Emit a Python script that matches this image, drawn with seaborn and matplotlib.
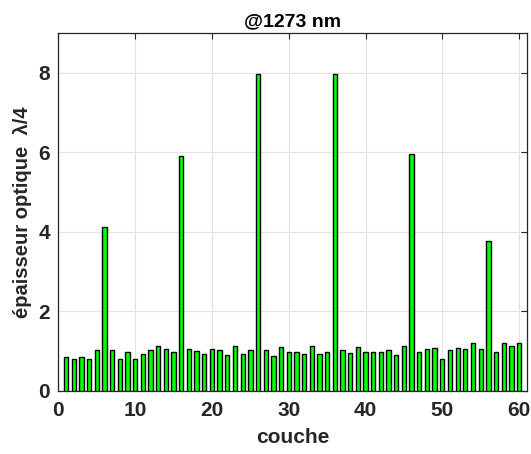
import numpy as np
import pandas as pd
import matplotlib
matplotlib.use("Agg")
import matplotlib.pyplot as plt
import seaborn as sns

# layer index and optical thickness (in lambda/4 units)
couche = list(range(1, 61))
epaisseur = [0.86, 0.79, 0.86, 0.79, 1.03, 4.12, 1.04, 0.79, 0.99, 0.79,
             0.93, 1.04, 1.12, 1.06, 0.99, 5.91, 1.05, 1.01, 0.94, 1.05,
             1.04, 0.91, 1.12, 0.92, 1.04, 7.96, 1.04, 0.89, 1.10, 0.98,
             0.99, 0.94, 1.12, 0.93, 0.99, 7.96, 1.04, 0.95, 1.11, 0.99,
             0.98, 0.99, 1.02, 0.91, 1.12, 5.97, 0.99, 1.05, 1.07, 0.79,
             1.02, 1.09, 1.05, 1.20, 1.06, 3.78, 0.99, 1.20, 1.13, 1.20]
xticks = [0, 10, 20, 30, 40, 50, 60]
yticks = [0, 2, 4, 6, 8]

df = pd.DataFrame({"couche": couche, "epaisseur": epaisseur})

sns.set_style("white")
plt.rcParams['font.family'] = ['Liberation Sans', 'DejaVu Sans']

fig = plt.figure(figsize=(5.31, 4.54), dpi=100)
ax = fig.add_axes([0.110, 0.139, 0.882, 0.788])

sns.barplot(data=df, x="couche", y="epaisseur", native_scale=True,
            color="#00ff00", saturation=1, width=0.56,
            edgecolor="black", linewidth=1, ax=ax, zorder=3)

ax.set_xlim(0, 61)
ax.set_ylim(0, 9)
ax.set_xticks(xticks)
ax.set_yticks(yticks)
ax.grid(True, color="#e3e3e3", linewidth=0.8, zorder=0)
ax.set_axisbelow(True)
for s in ax.spines.values():
    s.set_color("#262626")
    s.set_linewidth(0.9)
ax.tick_params(direction="in", length=4, width=0.8, color="#262626",
               top=True, right=True, labelsize=15, labelcolor="#262626")
ax.tick_params(axis="x", pad=7)
ax.tick_params(axis="y", pad=6)
for lab in ax.get_xticklabels() + ax.get_yticklabels():
    lab.set_fontweight("bold")

ax.set_xlabel("couche", fontsize=15, fontweight="bold", color="#262626", labelpad=6)
ax.set_ylabel("épaisseur optique  λ/4", fontsize=14.5, fontweight="bold",
              color="#262626", labelpad=5)
ax.set_title("@1273 nm", fontsize=14, fontweight="bold", color="black", pad=5)

fig.savefig("out.png", dpi=100)
